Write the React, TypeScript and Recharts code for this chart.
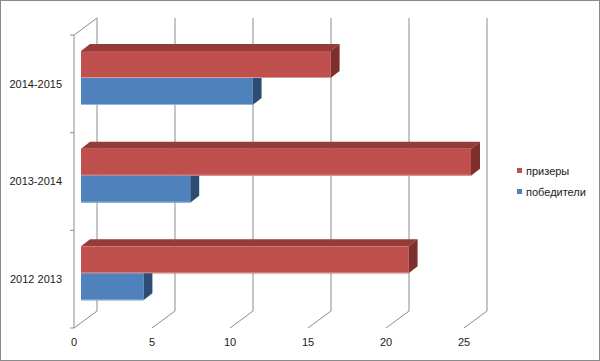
import { Bar, BarChart, CartesianGrid, XAxis, YAxis } from 'recharts';

const seasons = ['2012 2013', '2013-2014', '2014-2015'];
const prizeWinners = [21, 25, 16]; // призеры
const winners = [4, 7, 11]; // победители
const xTicks = [0, 5, 10, 15, 20, 25];

const data = seasons.map((season, i) => ({
  season,
  prize: prizeWinners[i],
  win: winners[i],
}));

// oblique offsets of the 3D box
const WALL_DX = 23;
const WALL_DY = -17;
const BAR_DX = 7;
const BAR_DY = -6;
const DEPTH_DX = 9;
const DEPTH_DY = -7;
const GRID = '#8c8c8c';
const FONT = '"Liberation Sans", Arial, sans-serif';

const RED = { front: '#C0504D', top: '#953B39', side: '#7D302E', edge: '#D99694' };
const BLUE = { front: '#4F81BD', top: '#3A6291', side: '#2E4D73', edge: '#95B3D7' };

function makeBarShape(c: typeof RED, hiddenTop: boolean) {
  return function BarShape(props: any) {
    const { x, y, width, height } = props;
    if (!width || width <= 0) return null;
    const x0 = x + BAR_DX;
    const y0 = y + BAR_DY;
    const x1 = x0 + width;
    const y1 = y0 + height;
    const side = hiddenTop
      ? `${x1},${y0} ${x1 + DEPTH_DX},${y0} ${x1 + DEPTH_DX},${y1 + DEPTH_DY} ${x1},${y1}`
      : `${x1},${y0} ${x1 + DEPTH_DX},${y0 + DEPTH_DY} ${x1 + DEPTH_DX},${y1 + DEPTH_DY} ${x1},${y1}`;
    return (
      <g>
        {!hiddenTop && (
          <polygon
            points={`${x0},${y0} ${x0 + DEPTH_DX},${y0 + DEPTH_DY} ${x1 + DEPTH_DX},${y0 + DEPTH_DY} ${x1},${y0}`}
            fill={c.top}
          />
        )}
        <polygon points={side} fill={c.side} />
        <rect x={x0} y={y0} width={width} height={height} fill={c.front} />
        <line x1={x0} y1={y1 - 0.5} x2={x1} y2={y1 - 0.5} stroke={c.edge} strokeWidth={1} />
      </g>
    );
  };
}

const PrizeShape = makeBarShape(RED, false);
const WinShape = makeBarShape(BLUE, true);

function WallLine(props: any) {
  const { x1, y1, y2, index } = props;
  const bx = x1 + WALL_DX;
  const parts = [
    <line key="v" x1={bx} y1={y1 + WALL_DY} x2={bx} y2={y2 + WALL_DY} stroke={GRID} />,
    <line key="d" x1={x1} y1={y2} x2={bx} y2={y2 + WALL_DY} stroke={GRID} />,
  ];
  if (index === 0) {
    const band = (y2 - y1) / seasons.length;
    parts.push(<line key="l" x1={x1} y1={y1} x2={x1} y2={y2} stroke={GRID} />);
    parts.push(<line key="t" x1={x1} y1={y1} x2={bx} y2={y1 + WALL_DY} stroke={GRID} />);
    for (let i = 0; i <= seasons.length; i++) {
      const ty = y1 + band * i;
      parts.push(<line key={`tk${i}`} x1={x1 - 4} y1={ty} x2={x1} y2={ty} stroke={GRID} />);
    }
  }
  return <g key={`wall-${index}`}>{parts}</g>;
}

function LegendBox() {
  const items = [
    { name: 'призеры', color: RED.front },
    { name: 'победители', color: BLUE.front },
  ];
  return (
    <div
      style={{
        position: 'absolute',
        left: 517,
        top: 160,
        fontFamily: FONT,
        fontSize: 11,
        color: '#1a1a1a',
      }}
    >
      {items.map((it) => (
        <div key={it.name} style={{ display: 'flex', alignItems: 'center', height: 21 }}>
          <span style={{ width: 5, height: 5, background: it.color, marginRight: 4 }} />
          {it.name}
        </div>
      ))}
    </div>
  );
}

export default function App() {
  return (
    <div style={{ position: 'absolute', left: 0, top: 0, width: 600, height: 361, background: '#fff' }}>
      <BarChart
        width={600}
        height={361}
        data={data}
        layout="vertical"
        margin={{ top: 35, right: 136, bottom: 0, left: 0 }}
        barGap={0}
      >
        <CartesianGrid horizontal={false} vertical={(p: any) => <WallLine {...p} />} />
        <XAxis
          type="number"
          domain={[0, 25]}
          ticks={xTicks}
          axisLine={false}
          tickLine={false}
          tickSize={0}
          tickMargin={10}
          height={33}
          tick={{ fontSize: 11, fill: '#1a1a1a', fontFamily: FONT }}
        />
        <YAxis
          type="category"
          dataKey="season"
          reversed
          width={74}
          axisLine={false}
          tickLine={false}
          tickSize={0}
          tickMargin={12}
          tick={{ fontSize: 11, fill: '#1a1a1a', fontFamily: FONT }}
        />
        <Bar dataKey="prize" name="призеры" barSize={27} shape={<PrizeShape />} isAnimationActive={false} />
        <Bar dataKey="win" name="победители" barSize={27} shape={<WinShape />} isAnimationActive={false} />
      </BarChart>
      <LegendBox />
      <div
        style={{
          position: 'absolute',
          inset: 0,
          border: '1px solid #8a8a8a',
          boxSizing: 'border-box',
          pointerEvents: 'none',
        }}
      />
    </div>
  );
}
